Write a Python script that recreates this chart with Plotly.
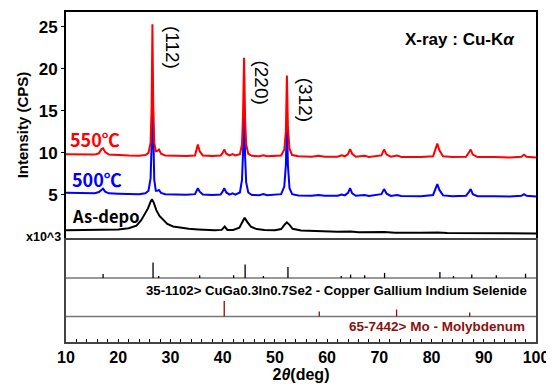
import plotly.graph_objects as go

# ---------------- data ----------------
two_theta_550 = [10.0, 12, 14, 15.5, 16.3, 16.8, 17.1, 17.5, 18.2, 20, 22, 24, 25.2, 25.8, 26.2, 26.4,
                 26.55, 26.7, 26.9, 27.2, 27.5, 27.8, 28.2, 29, 31, 33, 34.7, 35.0, 35.25, 35.6, 36.2,
                 38, 39.6, 40.0, 40.3, 40.7, 41.3, 41.9, 42.4, 43.3, 43.7, 43.9, 44.1, 44.3, 44.5, 44.9,
                 45.6, 47, 47.8, 48.5, 51.2, 51.8, 52.1, 52.3, 52.5, 52.8, 53.3, 54.5, 57, 58.4, 59.5,
                 62, 62.8, 63.4, 64.0, 64.4, 64.8, 65.5, 67.2, 68, 70.4, 70.9, 71.4, 72.2, 73.4, 74.2,
                 76, 78, 80.3, 80.8, 81.1, 81.5, 82.2, 84, 86.6, 87.2, 87.5, 87.9, 88.8, 92, 95, 97.2,
                 97.7, 98.2, 99.2, 100]
int_550 = [9.85, 9.82, 9.8, 9.8, 9.95, 10.45, 10.55, 10.1, 9.8, 9.72, 9.68, 9.65, 9.75, 10.0, 11.2, 15.5,
           25.3, 16.0, 11.2, 10.2, 10.25, 10.4, 9.9, 9.7, 9.65, 9.62, 9.7, 10.3, 11.0, 10.2, 9.7,
           9.62, 9.68, 10.0, 10.4, 9.9, 9.7, 9.85, 9.7, 9.85, 11.0, 14.5, 21.3, 14.0, 11.0, 9.9,
           9.65, 9.6, 9.72, 9.6, 9.7, 10.4, 12.5, 19.2, 13.0, 10.5, 9.75, 9.6, 9.55, 9.65, 9.55,
           9.55, 9.72, 9.6, 9.85, 10.45, 9.9, 9.55, 9.65, 9.52, 9.7, 10.4, 9.8, 9.55, 9.68, 9.52,
           9.5, 9.5, 9.6, 10.5, 11.1, 10.3, 9.6, 9.5, 9.55, 10.1, 10.4, 9.8, 9.5, 9.5, 9.45, 9.55,
           9.78, 9.55, 9.45, 9.45]

two_theta_500 = two_theta_550
int_500 = [5.27, 5.25, 5.22, 5.22, 5.35, 5.65, 5.75, 5.4, 5.2, 5.15, 5.1, 5.08, 5.2, 5.5, 7.0, 11.0,
           17.0, 11.0, 6.8, 5.5, 5.5, 5.6, 5.25, 5.1, 5.05, 5.02, 5.1, 5.5, 5.8, 5.4, 5.05,
           5.0, 5.05, 5.4, 5.8, 5.3, 5.05, 5.2, 5.05, 5.3, 6.8, 10.0, 15.3, 9.5, 6.5, 5.3,
           5.0, 4.98, 5.1, 4.98, 5.1, 6.0, 8.5, 13.7, 8.5, 5.8, 5.1, 4.95, 4.92, 5.0, 4.92,
           4.9, 5.05, 4.95, 5.25, 5.8, 5.2, 4.9, 5.0, 4.88, 5.1, 5.7, 5.15, 4.88, 5.0, 4.87,
           4.85, 4.85, 5.0, 5.9, 6.3, 5.6, 4.95, 4.85, 4.9, 5.4, 5.7, 5.1, 4.85, 4.85, 4.82, 4.9,
           5.1, 4.9, 4.82, 4.82]

two_theta_asdepo = [10, 14, 17, 18, 20, 22, 23.5, 24.4, 25.0, 25.7, 26.2, 26.45, 26.8, 27.3, 27.9, 28.6,
                    29.4, 30.5, 32, 33.5, 35.3, 36.5, 38.5, 39.8, 40.4, 40.9, 42, 43.2, 43.8, 44.2,
                    44.7, 45.4, 46.5, 48, 50, 51.2, 51.9, 52.3, 52.8, 53.4, 55, 58, 62, 64.5, 66, 71,
                    73, 78, 81.2, 83, 88, 92, 100]
int_asdepo = [0.82, 0.82, 0.9, 0.88, 0.9, 1.05, 1.35, 2.0, 2.7, 3.4, 4.2, 4.5, 4.1, 3.2, 2.5, 2.0,
              1.55, 1.25, 1.08, 0.98, 0.9, 0.85, 0.8, 0.85, 1.25, 0.85, 0.85, 1.1, 1.9, 2.3,
              1.8, 1.23, 0.95, 0.85, 0.82, 0.95, 1.5, 1.75, 1.45, 0.98, 0.78, 0.7, 0.62, 0.65, 0.58, 0.6,
              0.52, 0.5, 0.55, 0.48, 0.47, 0.45, 0.42]

# reference patterns (stick positions, relative intensities)
cigs_pos = [17.1, 26.67, 27.75, 35.6, 42.1, 44.3, 47.8, 52.5, 62.7, 64.5, 67.2, 71.0, 81.6, 84.2, 87.7, 92.4, 98.0]
cigs_int = [26, 100, 13, 18, 18, 87, 13, 71, 13, 22, 18, 33, 39, 13, 22, 18, 28]
mo_pos = [40.3, 58.5, 73.3, 87.3]
mo_int = [100, 32, 45, 26]

y_ticks = [5, 10, 15, 20, 25]
x_ticks = [10, 20, 30, 40, 50, 60, 70, 80, 90, 100]

# ---------------- layout constants ----------------
CIGS_BASE = 64.0
MO_BASE = 25.5
STICK_SCALE = 0.155
FONT = "Liberation Sans, Arial, Noto Sans CJK JP, sans-serif"
CJK = "Noto Sans CJK JP, Liberation Sans, sans-serif"
DARKRED = "#8B1010"

fig = go.Figure()

for xs, ys, col in [(two_theta_asdepo, int_asdepo, "black"),
                    (two_theta_500, int_500, "#0000FF"),
                    (two_theta_550, int_550, "#FF0000")]:
    fig.add_trace(go.Scatter(x=xs, y=ys, mode="lines", line=dict(color=col, width=2),
                             xaxis="x", yaxis="y", showlegend=False, hoverinfo="skip"))


def sticks(pos, inten, base):
    sx, sy = [], []
    for p, i in zip(pos, inten):
        sx += [p, p, None]
        sy += [base, base + i * STICK_SCALE, None]
    return sx, sy


sx, sy = sticks(cigs_pos, cigs_int, CIGS_BASE)
fig.add_trace(go.Scatter(x=sx, y=sy, mode="lines", line=dict(color="black", width=1.3),
                         xaxis="x2", yaxis="y2", showlegend=False, hoverinfo="skip"))
sx, sy = sticks(mo_pos, mo_int, MO_BASE)
fig.add_trace(go.Scatter(x=sx, y=sy, mode="lines", line=dict(color=DARKRED, width=1.3),
                         xaxis="x2", yaxis="y2", showlegend=False, hoverinfo="skip"))

for base in (CIGS_BASE, MO_BASE):
    fig.add_shape(type="line", xref="x2 domain", yref="y2", x0=0, x1=1, y0=base, y1=base,
                  line=dict(color="#777777", width=1.5), layer="below")

bold = dict(family=FONT, color="black", weight="bold")

# the page adds an 8px body margin, so margins are shifted by 8px
fig.update_layout(
    width=554, height=387,
    margin=dict(l=58, r=26, t=4, b=53),
    paper_bgcolor="white", plot_bgcolor="white",
    xaxis=dict(domain=[0, 1], range=[10, 100], anchor="y", showticklabels=False, ticks="",
               showgrid=False, zeroline=False, showline=True, mirror=True, linecolor="black", linewidth=2,
               automargin=False),
    yaxis=dict(domain=[0.315, 1], range=[-0.12, 26.75], tickvals=y_ticks, ticks="outside", ticklen=3,
               tickcolor="black", showgrid=False, zeroline=False, showline=True, mirror=True,
               linecolor="black", linewidth=2, tickfont=dict(size=17, **bold), automargin=False,
               title=dict(text="Intensity (CPS)", font=dict(size=15, **bold), standoff=6)),
    xaxis2=dict(domain=[0, 1], range=[10, 100], anchor="y2", tickvals=x_ticks, ticks="inside",
                ticklen=3, tickcolor="black", automargin=False,
                minor=dict(dtick=2, ticks="inside", ticklen=3, tickcolor="black"),
                showgrid=False, zeroline=False, showline=True, mirror=True, linecolor="#444444",
                linewidth=1.5, tickfont=dict(size=16, **bold),
                title=dict(text="2<i>θ</i>(deg)", font=dict(size=16, **bold), standoff=4)),
    yaxis2=dict(domain=[0, 0.309], range=[0, 102], showticklabels=False, ticks="", showgrid=False,
                zeroline=False, showline=True, mirror=True, linecolor="#444444", linewidth=1.5,
                automargin=False),
)

ann = []
ann.append(dict(x=10.3, y=11.6, xref="x", yref="y", text="550℃", xanchor="left", yanchor="middle",
                showarrow=False, font=dict(size=18, family=CJK, color="#FF0000", weight="bold")))
ann.append(dict(x=10.8, y=6.9, xref="x", yref="y", text="500℃", xanchor="left", yanchor="middle",
                showarrow=False, font=dict(size=18, family=CJK, color="#0000FF", weight="bold")))
ann.append(dict(x=10.8, y=2.5, xref="x", yref="y", text="As-depo", xanchor="left", yanchor="middle",
                showarrow=False, font=dict(size=16.5, family=CJK, color="black", weight="bold")))
for txt, xx, yy in [("(112)", 30.3, 22.6), ("(220)", 47.5, 18.4), ("(312)", 55.8, 16.3)]:
    ann.append(dict(x=xx, y=yy, xref="x", yref="y", text=txt, textangle=90, showarrow=False,
                    font=dict(size=19, family=FONT, color="black")))
ann.append(dict(x=96.3, y=23.45, xref="x", yref="y", text="X-ray : Cu-K<i>α</i>", xanchor="right",
                yanchor="middle", showarrow=False, font=dict(size=17, **bold)))
ann.append(dict(x=-0.006, y=0, xref="paper", yref="y", text="x10^3", xanchor="right", yanchor="middle",
                showarrow=False, font=dict(size=12.5, **bold)))
ann.append(dict(x=98.7, y=52, xref="x2", yref="y2",
                text="35-1102> CuGa0.3In0.7Se2 - Copper Gallium Indium Selenide",
                xanchor="right", yanchor="middle", showarrow=False, font=dict(size=13.2, **bold)))
ann.append(dict(x=98.3, y=16, xref="x2", yref="y2", text="65-7442> Mo - Molybdenum",
                xanchor="right", yanchor="middle", showarrow=False,
                font=dict(size=13.5, family=FONT, color=DARKRED, weight="bold")))
fig.update_layout(annotations=ann)

fig.write_html("out.html")
